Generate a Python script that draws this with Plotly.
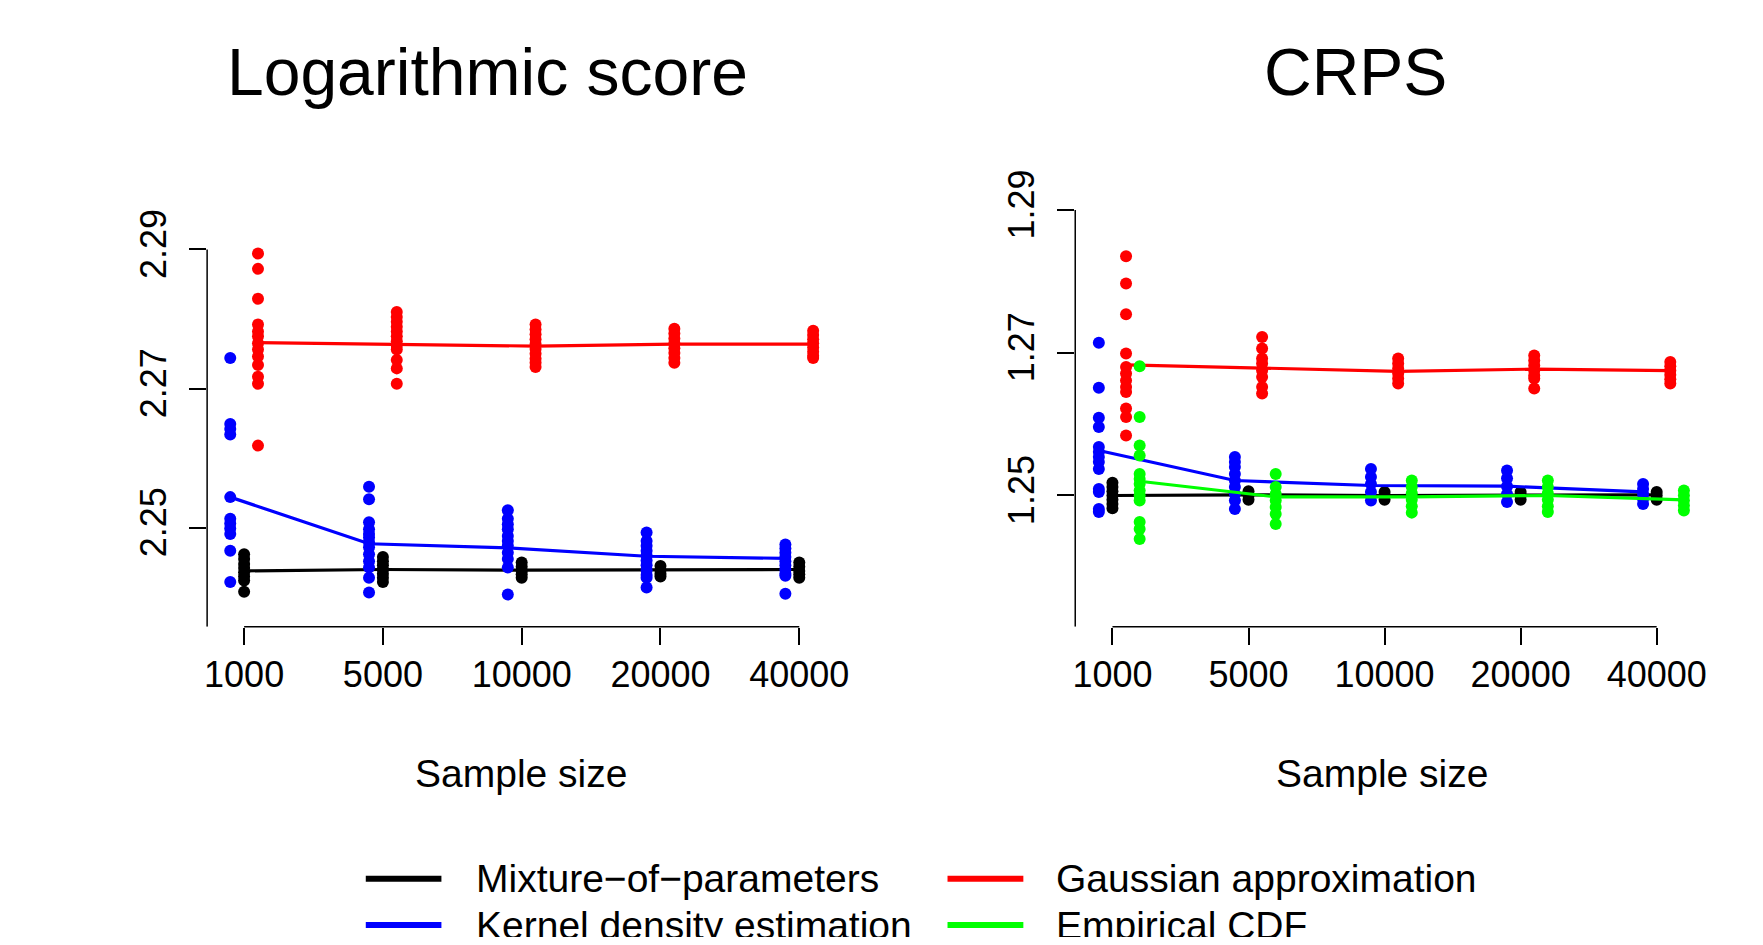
import plotly.graph_objects as go

# ---------------- data ----------------
sample_sizes = ["1000", "5000", "10000", "20000", "40000"]
methods = ["Mixture−of−parameters", "Kernel density estimation",
           "Gaussian approximation", "Empirical CDF"]
colors = ["#000000", "#0000FF", "#FF0000", "#00FF00"]
x_offsets = [0.0, -0.1, 0.1, 0.2]

# Logarithmic score: individual replicate values per sample size
log_mix_pts = [
    [2.2462, 2.2455, 2.2448, 2.2442, 2.2436, 2.2430, 2.2424, 2.2408],
    [2.2458, 2.2452, 2.2446, 2.2440, 2.2434, 2.2428, 2.2422],
    [2.2450, 2.2444, 2.2438, 2.2433, 2.2428],
    [2.2445, 2.2439, 2.2434, 2.2430],
    [2.2450, 2.2444, 2.2438, 2.2433, 2.2428],
]
log_kde_pts = [
    [2.2744, 2.2649, 2.2642, 2.2634, 2.2544, 2.2513, 2.2506, 2.2499, 2.2491, 2.2467, 2.2422],
    [2.2559, 2.2541, 2.2508, 2.2498, 2.2491, 2.2486, 2.2479, 2.2472, 2.2462, 2.2452, 2.2443, 2.2428, 2.2407],
    [2.2525, 2.2513, 2.2505, 2.2498, 2.2488, 2.2481, 2.2474, 2.2464, 2.2455, 2.2443, 2.2404],
    [2.2493, 2.2481, 2.2474, 2.2467, 2.2460, 2.2453, 2.2446, 2.2439, 2.2432, 2.2428, 2.2414],
    [2.2476, 2.2470, 2.2464, 2.2458, 2.2452, 2.2446, 2.2440, 2.2434, 2.2431, 2.2405],
]
log_gauss_pts = [
    [2.2894, 2.2872, 2.2829, 2.2792, 2.2782, 2.2775, 2.2765, 2.2756, 2.2746, 2.2734, 2.2717, 2.2707, 2.2618],
    [2.2810, 2.2803, 2.2796, 2.2789, 2.2782, 2.2775, 2.2768, 2.2762, 2.2756, 2.2741, 2.2729, 2.2707],
    [2.2792, 2.2785, 2.2778, 2.2771, 2.2764, 2.2757, 2.2750, 2.2743, 2.2737, 2.2731],
    [2.2786, 2.2779, 2.2772, 2.2765, 2.2758, 2.2751, 2.2744, 2.2737],
    [2.2783, 2.2777, 2.2771, 2.2765, 2.2759, 2.2753, 2.2747, 2.2744],
]
log_mix_line = [2.2438, 2.2440, 2.2439, 2.2439, 2.2440]
log_kde_line = [2.2544, 2.2477, 2.2471, 2.2459, 2.2456]
log_gauss_line = [2.2766, 2.2764, 2.2761, 2.2764, 2.2764]

# CRPS: individual replicate values per sample size
crps_mix_pts = [
    [1.2518, 1.2512, 1.2506, 1.2500, 1.2494, 1.2488, 1.2482],
    [1.2506, 1.2500, 1.2494],
    [1.2505, 1.2500, 1.2494],
    [1.2505, 1.2500, 1.2494],
    [1.2505, 1.2500, 1.2494],
]
crps_kde_pts = [
    [1.2714, 1.2651, 1.2609, 1.2596, 1.2568, 1.2561, 1.2554, 1.2547, 1.2537, 1.2509, 1.2505, 1.2481, 1.2477],
    [1.2554, 1.2547, 1.2540, 1.2530, 1.2521, 1.2512, 1.2502, 1.2493, 1.2481],
    [1.2537, 1.2526, 1.2516, 1.2505, 1.2493],
    [1.2535, 1.2524, 1.2513, 1.2502, 1.2491],
    [1.2516, 1.2509, 1.2502, 1.2495, 1.2488],
]
crps_gauss_pts = [
    [1.2835, 1.2797, 1.2754, 1.2699, 1.2680, 1.2671, 1.2661, 1.2652, 1.2645, 1.2622, 1.2610, 1.2584],
    [1.2722, 1.2706, 1.2692, 1.2685, 1.2675, 1.2666, 1.2652, 1.2643],
    [1.2692, 1.2685, 1.2678, 1.2671, 1.2664, 1.2657],
    [1.2696, 1.2689, 1.2682, 1.2675, 1.2668, 1.2664, 1.2650],
    [1.2687, 1.2681, 1.2675, 1.2669, 1.2663, 1.2657],
]
crps_ecdf_pts = [
    [1.2681, 1.2610, 1.2570, 1.2556, 1.2530, 1.2523, 1.2516, 1.2507, 1.2500, 1.2493, 1.2463, 1.2453, 1.2439],
    [1.2530, 1.2512, 1.2502, 1.2493, 1.2484, 1.2474, 1.2460],
    [1.2521, 1.2512, 1.2503, 1.2494, 1.2485, 1.2476],
    [1.2521, 1.2512, 1.2503, 1.2494, 1.2485, 1.2477],
    [1.2507, 1.2500, 1.2493, 1.2486, 1.2479],
]
crps_mix_line = [1.2500, 1.2501, 1.2500, 1.2500, 1.2501]
crps_kde_line = [1.2563, 1.2521, 1.2514, 1.2513, 1.2505]
crps_gauss_line = [1.2683, 1.2679, 1.2674, 1.2677, 1.2675]
crps_ecdf_line = [1.2520, 1.2498, 1.2498, 1.2500, 1.2494]

log_ticks = [2.25, 2.27, 2.29]
crps_ticks = [1.25, 1.27, 1.29]
panel_titles = ["Logarithmic score", "CRPS"]
x_title = "Sample size"

# ---------------- figure ----------------
PAGE_W, PAGE_H = 1763, 945
BODY = 8                      # default page margin around the plot div
W, H = PAGE_W - 2 * BODY, PAGE_H - 2 * BODY
FONT = "Liberation Sans, Arial, Helvetica, sans-serif"


def px(x):   # target pixel -> paper x (with small render correction)
    x = (x - 1.5) / 0.993
    return (x - BODY) / W


def py(y):   # target pixel -> paper y (with small render correction)
    y = (y - 10.5) / 0.988
    return 1 - (y - BODY) / H


fig = go.Figure()


def add_method(pts, line, k, xa, ya):
    pos = [i + 1 + x_offsets[k] for i in range(len(sample_sizes))]
    xs, ys = [], []
    for p, vals in zip(pos, pts):
        xs += [p] * len(vals)
        ys += vals
    fig.add_trace(go.Scatter(x=xs, y=ys, mode="markers", xaxis=xa, yaxis=ya,
                             marker=dict(color=colors[k], size=12, line=dict(width=0)),
                             name=methods[k], showlegend=False))
    fig.add_trace(go.Scatter(x=pos, y=line, mode="lines", xaxis=xa, yaxis=ya,
                             line=dict(color=colors[k], width=3.2),
                             name=methods[k], showlegend=False))


add_method(log_mix_pts, log_mix_line, 0, "x", "y")
add_method(log_kde_pts, log_kde_line, 1, "x", "y")
add_method(log_gauss_pts, log_gauss_line, 2, "x", "y")

add_method(crps_mix_pts, crps_mix_line, 0, "x2", "y2")
add_method(crps_kde_pts, crps_kde_line, 1, "x2", "y2")
add_method(crps_gauss_pts, crps_gauss_line, 2, "x2", "y2")
add_method(crps_ecdf_pts, crps_ecdf_line, 3, "x2", "y2")

# plot-region geometry (target pixels)
top_px, bot_px = 180.0, 626.5
left_dom = [px(206), px(836.5)]
right_dom = [px(1076), px(1696)]
ydom = [py(bot_px), py(top_px)]

log_range = [2.25 - (bot_px - 527.5) / 6950, 2.25 + (527.5 - top_px) / 6950]
crps_range = [1.25 - (bot_px - 495.3) / 7130, 1.25 + (495.3 - top_px) / 7130]
x_range_l = [0.7335, 5.2665]
x_range_r = [0.7265, 5.2735]

xcommon = dict(tickmode="array", tickvals=[1, 2, 3, 4, 5], ticktext=sample_sizes,
               ticks="outside", ticklen=17, tickwidth=1.5, tickcolor="black",
               showgrid=False, zeroline=False, showline=False, ticklabelstandoff=-1,
               tickfont=dict(family=FONT, size=36, color="black"))
ycommon = dict(tickmode="array", ticks="outside", ticklen=17, tickwidth=1.5,
               tickcolor="black", showgrid=False, zeroline=False, showline=False,
               tickangle=-90, ticklabelstandoff=9,
               tickfont=dict(family=FONT, size=36, color="black"))

fig.update_layout(
    width=W, height=H, margin=dict(l=0, r=0, t=0, b=0),
    paper_bgcolor="white", plot_bgcolor="white", showlegend=False,
    font=dict(family=FONT, color="black"),
    xaxis=dict(domain=left_dom, range=x_range_l, anchor="y", **xcommon),
    yaxis=dict(domain=ydom, range=log_range, anchor="x", tickvals=log_ticks,
               ticktext=[f"{v:.2f}" for v in log_ticks], **ycommon),
    xaxis2=dict(domain=right_dom, range=x_range_r, anchor="y2", **xcommon),
    yaxis2=dict(domain=ydom, range=crps_range, anchor="x2", tickvals=crps_ticks,
                ticktext=[f"{v:.2f}" for v in crps_ticks], **ycommon),
)

# axis lines (R style: from first to last tick, clipped to the plot region)
shapes = []
for xa, ya, yr, yt in [("x", "y", log_range, log_ticks), ("x2", "y2", crps_range, crps_ticks)]:
    shapes.append(dict(type="line", xref=f"{xa} domain", yref=ya, x0=0, x1=0,
                       y0=yr[0], y1=max(yt), line=dict(color="black", width=1.5)))
    shapes.append(dict(type="line", xref=xa, yref=f"{ya} domain", x0=1, x1=len(sample_sizes),
                       y0=0, y1=0, line=dict(color="black", width=1.5)))

# legend (bottom, two columns)
leg_rows = [878, 924.3]
leg_cols = [(365, 440.8, 473), (948, 1024, 1055)]
order = [(0, 0, 0), (1, 1, 0), (2, 0, 1), (3, 1, 1)]  # (method, row, col)
annotations = []
for k, r, c in order:
    x0, x1, xt = leg_cols[c]
    shapes.append(dict(type="line", xref="paper", yref="paper", x0=px(x0), x1=px(x1),
                       y0=py(leg_rows[r]), y1=py(leg_rows[r]), line=dict(color=colors[k], width=6)))
    annotations.append(dict(text=methods[k], xref="paper", yref="paper", x=px(xt), y=py(leg_rows[r]),
                            xanchor="left", yanchor="middle", showarrow=False,
                            font=dict(family=FONT, size=39, color="black")))

# panel titles and x-axis titles
for t, cx in zip(panel_titles, [487, 1357]):
    annotations.append(dict(text=t, xref="paper", yref="paper", x=px(cx), y=py(72),
                            xanchor="center", yanchor="middle", showarrow=False,
                            font=dict(family=FONT, size=66, color="black")))
for cx in [521, 1383]:
    annotations.append(dict(text=x_title, xref="paper", yref="paper", x=px(cx), y=py(772.5),
                            xanchor="center", yanchor="middle", showarrow=False,
                            font=dict(family=FONT, size=39, color="black")))

fig.update_layout(shapes=shapes, annotations=annotations)
fig.write_html("out.html")
